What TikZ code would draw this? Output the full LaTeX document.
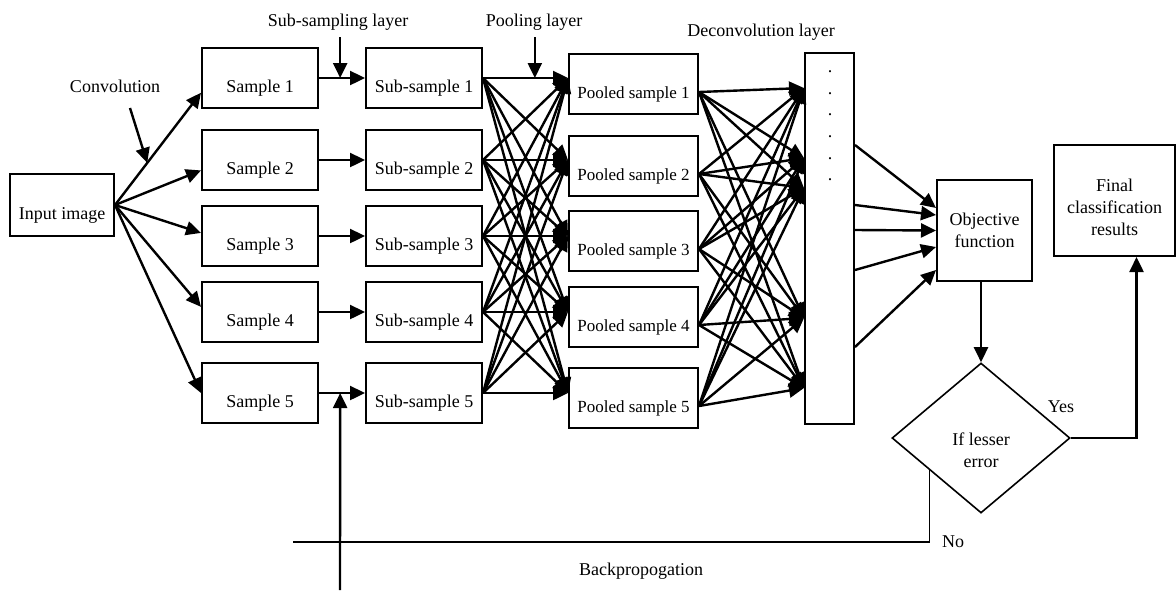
\documentclass[tikz,border=0pt]{standalone}
\usepackage{fontspec}
\setmainfont{Liberation Serif}
\usetikzlibrary{arrows.meta, shapes.geometric}

\begin{document}
\begin{tikzpicture}[
    x=0.5pt, y=-0.5pt,
    font=\fontsize{9}{11}\selectfont,
    frame/.style={draw, line width=1pt, inner sep=1pt},
    box/.style={frame, minimum width=58pt, minimum height=30pt, text height=16.5pt, text depth=1.8pt},
    arr/.style={-{Triangle[length=7.5pt, width=7pt]}, line width=1.2pt},
    thinline/.style={line width=0.8pt}
]
\useasboundingbox (0,0) rectangle (1176,590);

\node[box, minimum width=52pt, minimum height=31pt] (input) at (62,205) {Input image};
\foreach \i/\y in {1/78, 2/160, 3/236, 4/312, 5/393} {
  \node[box] (s\i) at (260,\y) {Sample \i};
  \node[box] (sub\i) at (424,\y) {Sub-sample \i};
}
\foreach \i/\y in {1/84, 2/166, 3/241, 4/317, 5/398}
  \node[box, minimum width=64.5pt, font=\fontsize{8.5}{10}\selectfont] (pool\i) at (633.5,\y) {Pooled sample \i};
\node[box, minimum width=24.5pt, minimum height=185.5pt] (bar) at (829.5,238.5) {};
\foreach \y [count=\k] in {72,94,115,137,159,180}
  \node[inner sep=0pt, anchor=base] (dot\k) at (830,\y) {.};
\node[frame, minimum width=47.5pt, minimum height=50.5pt, align=center] (obj) at (984.5,230.5) {Objective\\function};
\node[frame, minimum width=60.5pt, minimum height=55.5pt, align=center] (final) at (1114.5,200.5) {\rule{0pt}{13pt}Final\\classification\\results};
\node[draw, thinline, diamond, minimum width=89pt, minimum height=75pt, inner sep=0pt, align=center] (dec) at (981,438) {\rule{0pt}{19pt}If lesser\\error};

\node (conv) at (115,86) {Convolution};
\node (subl) at (338,22) {Sub-sampling layer};
\node (pooll) at (534,22) {Pooling layer};
\node (decl) at (761,32) {Deconvolution layer};
\node (yes) at (1061,407) {Yes};
\node (no) at (953,542) {No};
\node (back) at (641,571) {Backpropogation};

\coordinate (convtail) at (130,108);
\coordinate (bptail) at (340,590);
\coordinate (bpend) at (293,542);

\foreach \i/\a in {1/194, 2/190, 3/177, 4/175, 5/180}
  \draw[arr] (input.east) -- (s\i.\a);
\path (input.east) -- (s1.194) coordinate[pos=0.375] (convhit);
\draw[arr] (convtail) -- (convhit);

\foreach \i in {1,...,5}
  \draw[arr] (s\i) -- (sub\i);
\path (s1.east) -- (sub1.west) coordinate[pos=0.46] (subhit);
\path (s5.east) -- (sub5.west) coordinate[pos=0.46] (bphit);
\path (sub1.east) -- (pool1.west |- sub1.east) coordinate[pos=0.61] (poolhit);
\draw[arr] (subl.south -| subhit) -- (subhit);
\draw[arr] (pooll.south -| poolhit) -- (poolhit);
\draw[arr] (bptail) -- (bphit);

\foreach \i in {1,...,5}
  \foreach \j in {1,...,5}
    \draw[arr] (sub\i.east) -- (pool\j.west |- sub\j.east);

\foreach \i in {1,...,5}
  \foreach \t in {75.25, 40.25, 25.25, -39.75, -74.75}
    \draw[arr] ([yshift=-4pt]pool\i.east) -- ([yshift=\t pt]bar.west);

\foreach \a/\b in {46.75/11.25, 16.75/7.75, 4.25/0, -15.75/-8.25, -54.25/-19.75}
  \draw[arr] ([yshift=\a pt]bar.east) -- ([yshift=\b pt]obj.west);

\draw[arr] (obj.south -| dec.north) -- (dec.north);
\draw[arr] (dec.east) -| ([xshift=11pt]final.south);
\draw[thinline] (dec.212) |- (bpend);
\end{tikzpicture}
\end{document}
